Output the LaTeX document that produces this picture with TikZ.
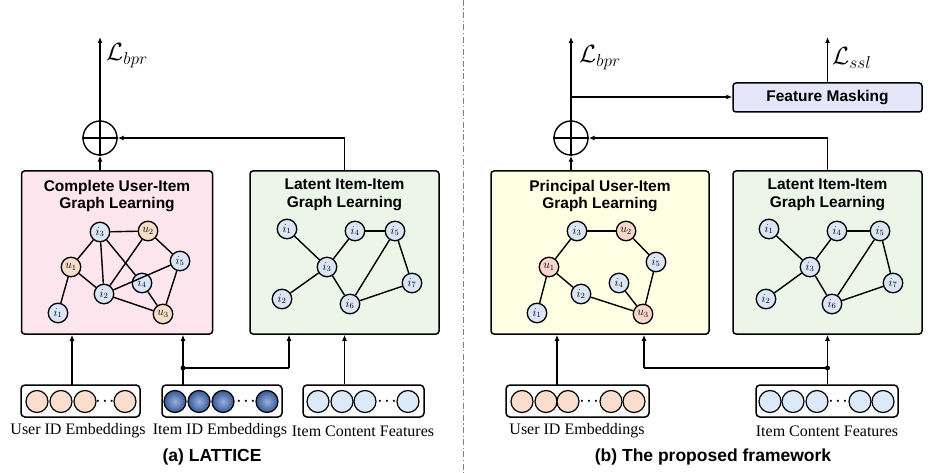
\documentclass[tikz,border=0pt]{standalone}
\usepackage{fontspec}
\setmainfont{Liberation Serif}
\setsansfont{Liberation Sans}
\usetikzlibrary{arrows.meta,calc}
\definecolor{pinkfill}{RGB}{253,229,238}
\definecolor{greenfill}{RGB}{236,246,232}
\definecolor{yellowfill}{RGB}{255,255,228}
\definecolor{itemblue}{RGB}{218,230,245}
\definecolor{userorangeL}{RGB}{247,222,200}
\definecolor{userorangeR}{RGB}{249,214,204}
\definecolor{fmfill}{RGB}{230,230,250}
\definecolor{embuser}{RGB}{250,221,205}
\definecolor{embitem}{RGB}{220,233,248}
\definecolor{denimin}{RGB}{150,175,222}
\definecolor{denimout}{RGB}{55,88,150}
\tikzset{
  panel/.style={draw, line width=1.5pt, rounded corners=3pt, minimum height=163pt, inner sep=0pt},
  ptitle/.style={font=\sffamily\bfseries\fontsize{15.5}{17.5}\selectfont, align=center, inner sep=0pt},
  gnode/.style={circle, draw, line width=1.3pt, minimum size=19.5pt, inner sep=0pt, font=\fontsize{12}{12}\selectfont},
  inode/.style={gnode, fill=itemblue},
  unodeL/.style={gnode, fill=userorangeL},
  unodeR/.style={gnode, fill=userorangeR},
  gedge/.style={line width=1.4pt},
  arr/.style={line width=1.4pt, -{Latex[length=6pt,width=5pt]}},
  wire/.style={line width=1.4pt},
  oplusnode/.style={circle, draw, line width=1.4pt, minimum size=34pt, inner sep=0pt},
  embbox/.style={draw, line width=1.5pt, rounded corners=4pt, minimum height=32pt, inner sep=0pt},
  ecirc/.style={circle, draw, line width=1.2pt, minimum size=22pt, inner sep=0pt},
  ecircU/.style={ecirc, fill=embuser},
  ecircI/.style={ecirc, fill=embitem},
  ecircD/.style={ecirc, inner color=denimin, outer color=denimout},
  edots/.style={inner sep=0pt, font=\fontsize{20}{20}\selectfont},
  elabel/.style={font=\fontsize{16}{16}\selectfont, inner sep=0pt},
  caption/.style={font=\sffamily\bfseries\fontsize{17.5}{20}\selectfont, inner sep=0pt},
  losslabel/.style={anchor=west, inner sep=0pt, font=\fontsize{23}{23}\selectfont},
  sep/.style={gray, line width=1pt, dash pattern=on 6pt off 2.5pt on 1.2pt off 2.5pt},
  dot/.style={circle, fill=black, inner sep=0pt, minimum size=5pt}
}
\newcommand{\edotsymb}{$\cdot\mkern-3mu\cdot\mkern-3mu\cdot$}
\begin{document}
\begin{tikzpicture}[x=1pt,y=-1pt]
\useasboundingbox (0,0) rectangle (945,473);

% separator
\coordinate (sepTop) at (463,0);
\coordinate (sepBot) at (463,473);
\draw[sep] (sepTop) -- (sepBot);

%%%%%%%%%%%%%%%% LEFT (a) %%%%%%%%%%%%%%%%
\node[panel, fill=pinkfill, minimum width=191pt] (cugL) at (117,252.5) {};
\node[ptitle] (cugLt) at (117,196) {Complete User-Item\\Graph Learning};
\node[panel, fill=greenfill, minimum width=189pt] (liiL) at (344.5,252.5) {};
\node[ptitle] (liiLt) at (344.5,195) {Latent Item-Item\\Graph Learning};

% user-item graph (left)
\node[inode]  (aI3) at (100,232) {$i_3$};
\node[unodeL] (aU2) at (148,231) {$u_2$};
\node[unodeL] (aU1) at (71,267) {$u_1$};
\node[inode]  (aI5) at (180,261) {$i_5$};
\node[inode]  (aI4) at (142,283) {$i_4$};
\node[inode]  (aI2) at (104,294) {$i_2$};
\node[inode]  (aI1) at (58,313) {$i_1$};
\node[unodeL] (aU3) at (163,314) {$u_3$};
\draw[gedge] (aI3) -- (aU2);
\draw[gedge] (aI3) -- (aU1);
\draw[gedge] (aI3) -- (aI2);
\draw[gedge] (aI3) -- (aI4);
\draw[gedge] (aU2) -- (aI2);
\draw[gedge] (aU2) -- (aI5);
\draw[gedge] (aU1) -- (aI1);
\draw[gedge] (aU1) -- (aI2);
\draw[gedge] (aI2) -- (aI5);
\draw[gedge] (aI2) -- (aU3);
\draw[gedge] (aI4) -- (aU3);
\draw[gedge] (aI5) -- (aU3);

% item-item graph (left)
\node[inode] (bI1) at (287,229) {$i_1$};
\node[inode] (bI4) at (355,231) {$i_4$};
\node[inode] (bI5) at (395,231) {$i_5$};
\node[inode] (bI3) at (327,267) {$i_3$};
\node[inode] (bI7) at (412,283) {$i_7$};
\node[inode] (bI2) at (282,299) {$i_2$};
\node[inode] (bI6) at (350,304) {$i_6$};
\draw[gedge] (bI1) -- (bI3);
\draw[gedge] (bI3) -- (bI4);
\draw[gedge] (bI4) -- (bI5);
\draw[gedge] (bI3) -- (bI2);
\draw[gedge] (bI3) -- (bI6);
\draw[gedge] (bI5) -- (bI6);
\draw[gedge] (bI5) -- (bI7);
\draw[gedge] (bI6) -- (bI7);

% oplus and loss (left)
\node[oplusnode] (opL) at (100,138) {};
\draw[line width=1.4pt] (opL.west) -- (opL.east);
\draw[line width=1.4pt] (opL.north) -- (opL.south);
\coordinate (lossL) at (100,37);
\draw[arr] (opL.north) -- (lossL);
\node[losslabel] (lbprL) at (106,56) {$\mathcal{L}_{bpr}$};
\draw[arr] (opL |- cugL.north) -- (opL.south);
\draw[arr] (liiL.north) |- (opL.east);

% embeddings (left)
\node[embbox, minimum width=119pt] (ueL) at (80.5,401) {};
\node[ecircU] (ueL1) at (37,401.5) {};
\node[ecircU] (ueL2) at (61,401.5) {};
\node[ecircU] (ueL3) at (85,401.5) {};
\node[edots]  (ueLd) at (105,401.5) {\edotsymb};
\node[ecircU] (ueL4) at (125,401.5) {};
\node[elabel] (ueLl) at (78,431) {User ID Embeddings};

\node[embbox, minimum width=120pt] (ieL) at (222,401) {};
\node[ecircD] (ieL1) at (175,401.5) {};
\node[ecircD] (ieL2) at (199,401.5) {};
\node[ecircD] (ieL3) at (223,401.5) {};
\node[edots]  (ieLd) at (246,401.5) {\edotsymb};
\node[ecircD] (ieL4) at (267,401.5) {};
\node[elabel] (ieLl) at (220,431) {Item ID Embeddings};

\node[embbox, minimum width=121pt] (cfL) at (363.5,401) {};
\node[ecircI] (cfL1) at (318,401.5) {};
\node[ecircI] (cfL2) at (342,401.5) {};
\node[ecircI] (cfL3) at (365,401.5) {};
\node[edots]  (cfLd) at (387,401.5) {\edotsymb};
\node[ecircI] (cfL4) at (408,401.5) {};
\node[elabel] (cfLl) at (363,431) {Item Content Features};

\coordinate (aUp) at (72,385);
\draw[arr] (aUp) -- (aUp |- cugL.south);
\coordinate (aIp) at (183,385);
\draw[arr] (aIp) -- (aIp |- cugL.south);
\coordinate (aJ) at (183,368);
\coordinate (aJr) at (289,368);
\node[dot] (aJd) at (aJ) {};
\draw[wire] (aJ) -- (aJr);
\draw[arr] (aJr) -- (aJr |- liiL.south);
\draw[arr] (liiL.south |- cfL.north) -- (liiL.south);

\node[caption] (capA) at (212,457) {(a) LATTICE};

%%%%%%%%%%%%%%%% RIGHT (b) %%%%%%%%%%%%%%%%
\node[panel, fill=yellowfill, minimum width=218pt] (puiR) at (600,252.5) {};
\node[ptitle] (puiRt) at (600,196) {Principal User-Item\\Graph Learning};
\node[panel, fill=greenfill, minimum width=189pt] (liiR) at (827.5,252.5) {};
\node[ptitle] (liiRt) at (827.5,195) {Latent Item-Item\\Graph Learning};

% user-item graph (right)
\node[inode]  (cI3) at (577,231) {$i_3$};
\node[unodeR] (cU2) at (626,231) {$u_2$};
\node[unodeR] (cU1) at (549,267) {$u_1$};
\node[inode]  (cI5) at (656,262) {$i_5$};
\node[inode]  (cI4) at (619,283) {$i_4$};
\node[inode]  (cI2) at (581,294) {$i_2$};
\node[inode]  (cI1) at (537,313) {$i_1$};
\node[unodeR] (cU3) at (643,314) {$u_3$};
\draw[gedge] (cI3) -- (cU2);
\draw[gedge] (cI3) -- (cU1);
\draw[gedge] (cU2) -- (cI5);
\draw[gedge] (cU1) -- (cI1);
\draw[gedge] (cU1) -- (cI2);
\draw[gedge] (cI2) -- (cU3);
\draw[gedge] (cI4) -- (cU3);
\draw[gedge] (cI5) -- (cU3);

% item-item graph (right)
\node[inode] (dI1) at (769,229) {$i_1$};
\node[inode] (dI4) at (837,231) {$i_4$};
\node[inode] (dI5) at (880,231) {$i_5$};
\node[inode] (dI3) at (810,267) {$i_3$};
\node[inode] (dI7) at (893,283) {$i_7$};
\node[inode] (dI2) at (766,299) {$i_2$};
\node[inode] (dI6) at (832,304) {$i_6$};
\draw[gedge] (dI1) -- (dI3);
\draw[gedge] (dI3) -- (dI4);
\draw[gedge] (dI4) -- (dI5);
\draw[gedge] (dI3) -- (dI2);
\draw[gedge] (dI3) -- (dI6);
\draw[gedge] (dI5) -- (dI6);
\draw[gedge] (dI5) -- (dI7);
\draw[gedge] (dI6) -- (dI7);

% oplus, loss, feature masking (right)
\node[oplusnode] (opR) at (571,138) {};
\draw[line width=1.4pt] (opR.west) -- (opR.east);
\draw[line width=1.4pt] (opR.north) -- (opR.south);
\coordinate (lossR) at (571,37);
\draw[arr] (opR.north) -- (lossR);
\node[losslabel] (lbprR) at (579,58) {$\mathcal{L}_{bpr}$};
\draw[arr] (opR |- puiR.north) -- (opR.south);
\draw[arr] (liiR.north) |- (opR.east);

\node[draw, line width=1.5pt, rounded corners=3pt, fill=fmfill, minimum width=189pt, minimum height=29pt, inner sep=0pt,
      font=\sffamily\bfseries\fontsize{15.5}{17}\selectfont] (fm) at (827.5,97.5) {Feature Masking};
\coordinate (brR) at (571,97);
\draw[arr] (brR) -- (fm.west |- brR);
\coordinate (lossS) at (827.5,37);
\draw[arr] (fm.north) -- (lossS);
\node[losslabel] (lssl) at (832,58) {$\mathcal{L}_{ssl}$};

% embeddings (right)
\node[embbox, minimum width=143pt] (ueR) at (577.5,401) {};
\node[ecircU] (ueR1) at (522,401.5) {};
\node[ecircU] (ueR2) at (546,401.5) {};
\node[ecircU] (ueR3) at (568,401.5) {};
\node[edots]  (ueRd) at (589,401.5) {\edotsymb};
\node[ecircU] (ueR4) at (611,401.5) {};
\node[ecircU] (ueR5) at (634,401.5) {};
\node[elabel] (ueRl) at (577,431) {User ID Embeddings};

\node[embbox, minimum width=142pt] (cfR) at (827,401) {};
\node[ecircI] (cfR1) at (770,401.5) {};
\node[ecircI] (cfR2) at (793,401.5) {};
\node[ecircI] (cfR3) at (817,401.5) {};
\node[edots]  (cfRd) at (838,401.5) {\edotsymb};
\node[ecircI] (cfR4) at (860,401.5) {};
\node[ecircI] (cfR5) at (883,401.5) {};
\node[elabel] (cfRl) at (827,431) {Item Content Features};

\coordinate (cUp) at (557,385);
\draw[arr] (cUp) -- (cUp |- puiR.south);
\draw[arr] (liiR.south |- cfR.north) -- (liiR.south);
\coordinate (cJ) at (827.5,368);
\coordinate (cJl) at (644,368);
\node[dot] (cJd) at (cJ) {};
\draw[wire] (cJ) -- (cJl);
\draw[arr] (cJl) -- (cJl |- puiR.south);

\node[caption] (capB) at (713,457) {(b) The proposed framework};
\end{tikzpicture}
\end{document}
